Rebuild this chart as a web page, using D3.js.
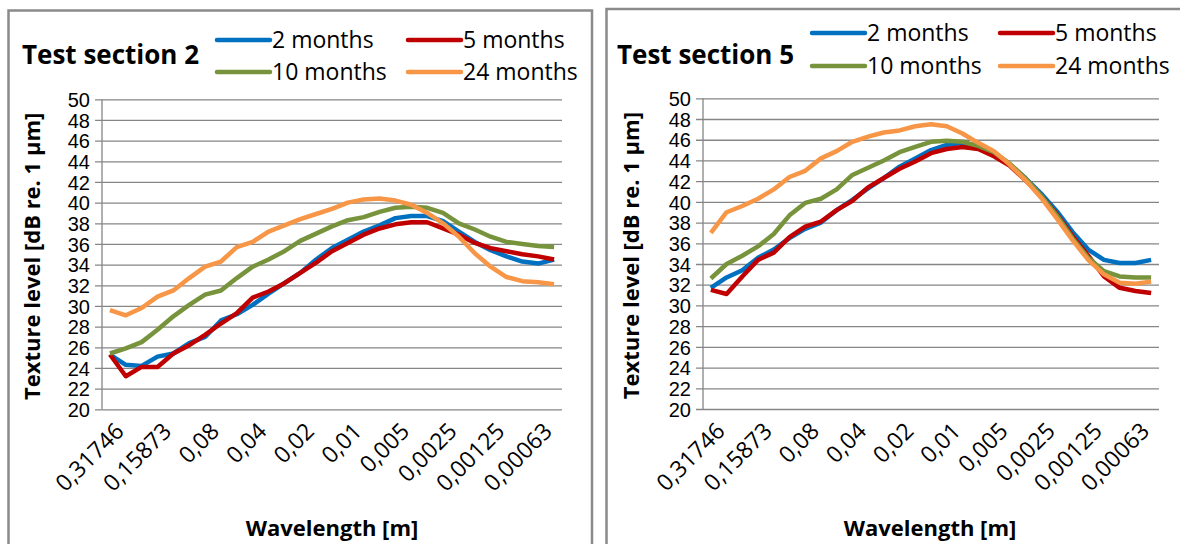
<!DOCTYPE html>
<html>
<head>
<meta charset="utf-8">
<script src="https://cdn.jsdelivr.net/npm/d3@7"></script>
<style>
  body { margin: 0; background: #fff; }
  svg { display: block; font-family: "Open Sans", sans-serif; }
</style>
</head>
<body>
<svg id="chart" width="1180" height="544"></svg>
<script>
/* ---------------------------------------------------
   Data
--------------------------------------------------- */

const wavelengthLabels = ["0,31746", "0,15873", "0,08", "0,04", "0,02", "0,01",
  "0,005", "0,0025", "0,00125", "0,00063"];

const seriesNames = ["2 months", "5 months", "10 months", "24 months"];

const yTicks = d3.range(20, 51, 2);

// Test section 2
const s2Months2 = [25.3, 24.3, 24.2, 25.1, 25.4, 26.4, 27.0, 28.6, 29.2, 30.1, 31.2, 32.2, 33.2, 34.5, 35.6,
  36.4, 37.2, 37.8, 38.5, 38.7, 38.7, 38.2, 37.2, 36.2, 35.4, 34.8, 34.3, 34.1, 34.5];
const s2Months5 = [25.3, 23.2, 24.1, 24.1, 25.4, 26.2, 27.2, 28.3, 29.3, 30.8, 31.4, 32.2, 33.2, 34.2, 35.3,
  36.1, 36.9, 37.5, 37.9, 38.1, 38.1, 37.5, 36.9, 36.1, 35.6, 35.3, 35.0, 34.8, 34.5];
const s2Months10 = [25.4, 25.9, 26.5, 27.7, 29.0, 30.1, 31.1, 31.5, 32.7, 33.8, 34.5, 35.3, 36.3, 37.0, 37.7,
  38.3, 38.6, 39.1, 39.5, 39.6, 39.5, 39.0, 38.0, 37.4, 36.7, 36.2, 36.0, 35.8, 35.7];
const s2Months24 = [29.6, 29.1, 29.8, 30.9, 31.5, 32.7, 33.8, 34.3, 35.7, 36.2, 37.2, 37.8, 38.4, 38.9, 39.4,
  40.0, 40.3, 40.4, 40.2, 39.8, 39.0, 38.0, 36.7, 35.1, 33.8, 32.8, 32.4, 32.3, 32.1];

// Test section 5
const s5Months2 = [31.7, 32.7, 33.4, 34.6, 35.4, 36.5, 37.4, 38.0, 39.2, 40.2, 41.3, 42.3, 43.4, 44.2, 45.0,
  45.5, 45.7, 45.3, 44.5, 43.6, 42.3, 40.8, 39.1, 37.1, 35.4, 34.4, 34.1, 34.1, 34.4];
const s5Months5 = [31.5, 31.1, 32.8, 34.4, 35.1, 36.6, 37.6, 38.1, 39.2, 40.1, 41.4, 42.3, 43.2, 43.9, 44.7,
  45.1, 45.3, 45.1, 44.4, 43.5, 42.1, 40.6, 38.8, 36.7, 34.8, 32.8, 31.7, 31.4, 31.2];
const s5Months10 = [32.6, 34.0, 34.8, 35.7, 36.9, 38.7, 39.9, 40.3, 41.2, 42.6, 43.3, 44.0, 44.8, 45.3, 45.8,
  45.9, 45.8, 45.4, 44.8, 43.7, 42.3, 40.6, 38.7, 36.5, 34.6, 33.3, 32.8, 32.7, 32.7];
const s5Months24 = [37.0, 39.0, 39.6, 40.3, 41.2, 42.4, 43.0, 44.2, 44.9, 45.8, 46.3, 46.7, 46.9, 47.3, 47.5,
  47.3, 46.6, 45.7, 44.9, 43.6, 42.1, 40.4, 38.4, 36.3, 34.4, 33.0, 32.2, 32.1, 32.3];

const colours = ["#0070C0", "#C00000", "#77933C", "#F79646"];

/* ---------------------------------------------------
   Panels
--------------------------------------------------- */

const panels = [
  {
    title: "Test section 2",
    series: [s2Months2, s2Months5, s2Months10, s2Months24],
    box: [8.5, 10.5, 583.5, 560],
    plot: { left: 102, right: 562, top: 99.3, bottom: 409.3 },
    titleX: 22, titleY: 64,
    legendX: [217, 408], legendY: [40, 72],
    yTitleX: 40, xTitleX: 332
  },
  {
    title: "Test section 5",
    series: [s5Months2, s5Months5, s5Months10, s5Months24],
    box: [606.5, 9, 600, 560],
    plot: { left: 703, right: 1159, top: 98.3, bottom: 409 },
    titleX: 617, titleY: 64,
    legendX: [812, 1000], legendY: [33, 66],
    yTitleX: 639, xTitleX: 930
  }
];

const svg = d3.select("#chart");

panels.forEach(p => {
  const g = svg.append("g");

  g.append("rect")
    .attr("x", p.box[0])
    .attr("y", p.box[1])
    .attr("width", p.box[2])
    .attr("height", p.box[3])
    .attr("fill", "#fff")
    .attr("stroke", "#8a8a8a")
    .attr("stroke-width", 2.5);

  const n = p.series[0].length;

  const x = d3.scalePoint()
    .domain(d3.range(n))
    .range([p.plot.left, p.plot.right])
    .padding(0.5);

  const y = d3.scaleLinear()
    .domain([20, 50])
    .range([p.plot.bottom, p.plot.top]);

  // gridlines + y axis
  const yAxis = d3.axisLeft(y)
    .tickValues(yTicks)
    .tickSize(-(p.plot.right - p.plot.left))
    .tickPadding(12);

  const yg = g.append("g")
    .attr("transform", `translate(${p.plot.left},0)`)
    .call(yAxis);

  yg.select(".domain").remove();
  yg.selectAll(".tick line")
    .attr("x1", -7)
    .attr("stroke", "#868686")
    .attr("stroke-width", 1.3);
  yg.selectAll(".tick text")
    .attr("font-size", 20)
    .attr("fill", "#000")
    .attr("dy", "0.36em");

  g.append("line")
    .attr("x1", p.plot.left)
    .attr("x2", p.plot.left)
    .attr("y1", p.plot.top)
    .attr("y2", p.plot.bottom)
    .attr("stroke", "#868686")
    .attr("stroke-width", 1.3);

  // x category labels, every third point
  const xg = g.append("g");
  xg.selectAll("text")
    .data(wavelengthLabels)
    .join("text")
    .attr("transform", (d, i) => `translate(${x(i * 3) + 4},${p.plot.bottom + 12}) rotate(-45)`)
    .attr("text-anchor", "end")
    .attr("dy", "0.7em")
    .attr("font-size", 23)
    .text(d => d);

  // lines
  const line = d3.line()
    .x((d, i) => x(i))
    .y(d => y(d));

  g.selectAll(".series")
    .data(p.series)
    .join("path")
    .attr("class", "series")
    .attr("d", line)
    .attr("fill", "none")
    .attr("stroke", (d, i) => colours[i])
    .attr("stroke-width", 4.5)
    .attr("stroke-linejoin", "round");

  // titles
  g.append("text")
    .attr("x", p.titleX)
    .attr("y", p.titleY)
    .attr("font-size", 26)
    .attr("font-weight", "bold")
    .text(p.title);

  g.append("text")
    .attr("transform", `translate(${p.yTitleX},${(p.plot.top + p.plot.bottom) / 2 + 2}) rotate(-90)`)
    .attr("text-anchor", "middle")
    .attr("font-size", 22)
    .attr("font-weight", "bold")
    .text("Texture level [dB re. 1 µm]");

  g.append("text")
    .attr("x", p.xTitleX)
    .attr("y", 536)
    .attr("text-anchor", "middle")
    .attr("font-size", 22)
    .attr("font-weight", "bold")
    .text("Wavelength [m]");

  // legend
  const lg = g.selectAll(".legend")
    .data(seriesNames)
    .join("g")
    .attr("class", "legend")
    .attr("transform", (d, i) => `translate(${p.legendX[i % 2]},${p.legendY[Math.floor(i / 2)]})`);

  lg.append("line")
    .attr("x1", 0)
    .attr("x2", 53)
    .attr("stroke", (d, i) => colours[i])
    .attr("stroke-width", 4.5)
    .attr("stroke-linecap", "round");

  lg.append("text")
    .attr("x", 55)
    .attr("dy", "0.35em")
    .attr("font-size", 23)
    .text(d => d);
});
</script>
</body>
</html>
